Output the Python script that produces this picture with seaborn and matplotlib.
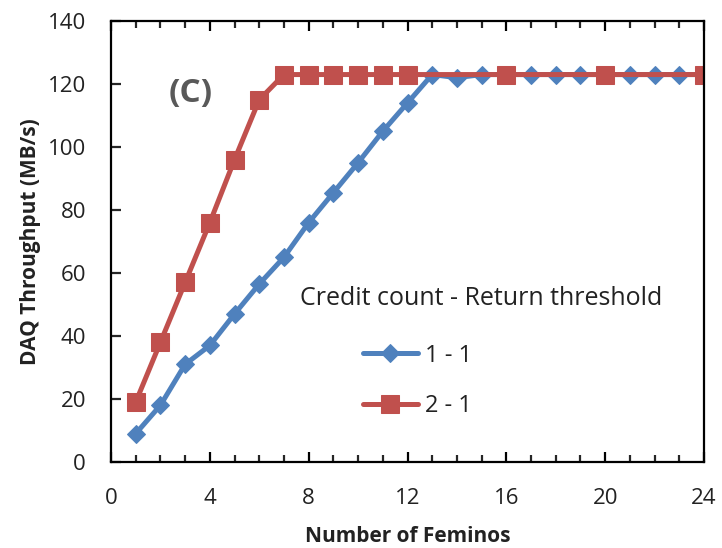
import numpy as np
import pandas as pd
import matplotlib
matplotlib.use("Agg")
import matplotlib.pyplot as plt
from matplotlib.ticker import MultipleLocator
import seaborn as sns

# Throughput vs number of Feminos for two credit-count / return-threshold settings
feminos_11 = list(range(1, 25))
throughput_11 = [9, 18, 31, 37, 47, 56.5, 65, 76, 85.5, 95, 105, 114, 123, 122,
                 123, 123, 123, 123, 123, 123, 123, 123, 123, 123]

feminos_21 = [1, 2, 3, 4, 5, 6, 7, 8, 9, 10, 11, 12, 16, 20, 24]
throughput_21 = [19, 38, 57, 76, 96, 115, 123, 123, 123, 123, 123, 123, 123, 123, 123]

series_names = ["1 - 1", "2 - 1"]
series_colors = ["#4F81BD", "#C0504D"]
series_markers = ["D", "s"]

df = pd.concat([
    pd.DataFrame({"Feminos": feminos_11, "Throughput": throughput_11, "Setting": series_names[0]}),
    pd.DataFrame({"Feminos": feminos_21, "Throughput": throughput_21, "Setting": series_names[1]}),
], ignore_index=True)

sns.set_style("white")
plt.rcParams["font.family"] = ["Open Sans", "DejaVu Sans"]

fig = plt.figure(figsize=(7.22, 5.48), dpi=100)
ax = fig.add_axes([111 / 722, 1 - 462 / 548, (704 - 111) / 722, (462 - 21) / 548])

for name, color, marker, msize in zip(series_names, series_colors, series_markers, [9, 12.5]):
    sub = df[df["Setting"] == name]
    sns.lineplot(data=sub, x="Feminos", y="Throughput", ax=ax, color=color,
                 marker=marker, markersize=msize, markeredgecolor=color,
                 linewidth=3.6, label=name, legend=False)

ax.set_xlim(0, 24)
ax.set_ylim(0, 140)
ax.xaxis.set_major_locator(MultipleLocator(4))
ax.xaxis.set_minor_locator(MultipleLocator(1))
ax.yaxis.set_major_locator(MultipleLocator(20))

for side in ["left", "right", "top", "bottom"]:
    ax.spines[side].set_visible(True)
    ax.spines[side].set_color("black")
    ax.spines[side].set_linewidth(1.6)

ax.tick_params(axis="x", which="major", direction="in", length=7, width=1.6,
               top=True, bottom=True, labelsize=16, pad=19, colors="black", labelcolor="#222222")
ax.tick_params(axis="x", which="minor", direction="in", length=5, width=1.6,
               top=True, bottom=True)
ax.tick_params(axis="y", which="major", direction="in", length=7, width=1.6,
               left=True, right=False, labelsize=16, pad=18, labelcolor="#222222")

ax.set_xlabel("Number of Feminos", fontsize=15, fontweight="bold", labelpad=12, color="#222222")
ax.set_ylabel("DAQ Throughput (MB/s)", fontsize=15, fontweight="bold", labelpad=5, color="#222222")

ax.text(3.24, 117, "(C)", fontsize=24, fontweight="bold", color="#595959", ha="center", va="center")

ax.text(7.65, 52, "Credit count - Return threshold", fontsize=18, color="#222222",
        ha="left", va="center")
leg = ax.legend(loc="upper left", bbox_to_anchor=(0.409, 0.290),
                frameon=False, fontsize=17, handlelength=2.33, handletextpad=0.3,
                labelspacing=1.13, borderaxespad=0)
for t in leg.get_texts():
    t.set_color("#222222")

fig.savefig("out.png", dpi=100)
